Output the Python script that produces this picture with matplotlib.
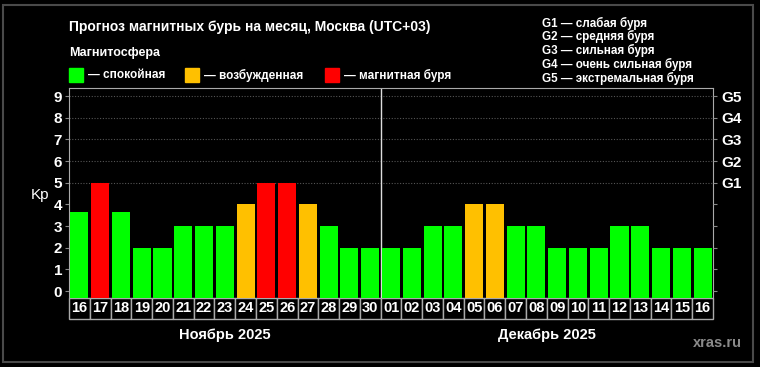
"""
Прогноз магнитных бурь на месяц (xras.ru) - recreation
"""

import matplotlib
matplotlib.use('Agg')
import matplotlib.pyplot as plt
from matplotlib.patches import Rectangle
import matplotlib.transforms as mtransforms

plt.rcParams['font.family'] = ['Liberation Sans', 'DejaVu Sans']
plt.rcParams['font.weight'] = 'bold'

# Data
days = ['16', '17', '18', '19', '20', '21', '22', '23', '24', '25', '26', '27', '28', '29', '30',
        '01', '02', '03', '04', '05', '06', '07', '08', '09', '10', '11', '12', '13', '14', '15', '16']
kp = [3.67, 5, 3.67, 2, 2, 3, 3, 3, 4, 5, 5, 4, 3, 2, 2,
      2, 2, 3, 3, 4, 4, 3, 3, 2, 2, 2, 3, 3, 2, 2, 2]
months = ['Ноябрь 2025', 'Декабрь 2025']
month_len = [15, 16]
g_labels = ['G1', 'G2', 'G3', 'G4', 'G5']
g_desc = ['слабая буря', 'средняя буря', 'сильная буря', 'очень сильная буря', 'экстремальная буря']
state_names = ['спокойная', 'возбужденная', 'магнитная буря']
state_colors = ['#00ff00', '#ffc000', '#ff0000']

W, H = 760, 367


def fx(px):
    return px / W


def fy(py):
    return 1 - py / H


def bar_color(v):
    if v >= 5:
        return state_colors[2]
    if v >= 4:
        return state_colors[1]
    return state_colors[0]


fig = plt.figure(figsize=(7.6, 3.67), dpi=100, facecolor='black')

# outer frame
fig.patches.append(Rectangle((fx(3), fy(362)), fx(750), 357 / H, transform=fig.transFigure,
                             fill=False, edgecolor='#4a4a4a', lw=1.5))

ax = fig.add_axes([fx(69), fy(298), fx(713 - 69), (298 - 88) / H])
ax.set_facecolor('black')
ymin, ymax = -0.32, 9.37
ax.set_xlim(-0.5, len(days) - 0.5)
ax.set_ylim(ymin, ymax)

x = list(range(len(days)))
ax.bar(x, [v - ymin for v in kp], bottom=ymin, width=0.87,
       color=[bar_color(v) for v in kp], zorder=3)

# grid on the G levels only
for g in range(5, 10):
    ax.axhline(g, color='#555555', lw=0.8, ls=(0, (1, 1.5)), zorder=1)

# month separator
ax.axvline(month_len[0] - 0.5, color='#dddddd', lw=1, zorder=2)

for s in ['left', 'top', 'right']:
    ax.spines[s].set_color('#aaaaaa')
ax.spines['bottom'].set_visible(False)

ax.set_yticks(range(10))
ax.tick_params(axis='y', colors='#888888', labelcolor='white', labelsize=11, length=3, pad=2)
ax.set_xticks([])
ax.set_ylabel('Kp', color='white', fontsize=11, rotation=0, va='center')
ax.yaxis.set_label_coords(-0.045, 0.49)

ax2 = ax.twinx()
ax2.set_ylim(ymin, ymax)
ax2.set_yticks(range(10))
ax2.set_yticklabels([''] * 5 + g_labels)
ax2.tick_params(axis='y', colors='#888888', labelcolor='white', labelsize=11, length=3, pad=3)
for s in ax2.spines.values():
    s.set_visible(False)

# date cells under the bars
trans = mtransforms.blended_transform_factory(ax.transData, ax.transAxes)
cell_h = 21 / 210
for i, d in enumerate(days):
    ax.add_patch(Rectangle((i - 0.5, -cell_h), 1, cell_h, transform=trans, clip_on=False,
                           facecolor='black', edgecolor='#aaaaaa', lw=1))
    ax.text(i, -cell_h / 2, d, transform=trans, ha='center', va='center',
            color='white', fontsize=10.5, clip_on=False)

# month names
start = 0
for m, n in zip(months, month_len):
    ax.text(start + (n - 1) / 2, -0.178, m, transform=trans, ha='center', va='center',
            color='white', fontsize=10.5)
    start += n

# header
fig.text(fx(69), fy(27), 'Прогноз магнитных бурь на месяц, Москва (UTC+03)',
         color='white', fontsize=10, va='center')
fig.text(fx(69), fy(53), 'Магнитосфера', color='white', fontsize=9, va='center')

sq_x = [69, 185, 325]
for sx, name, c in zip(sq_x, state_names, state_colors):
    fig.patches.append(Rectangle((fx(sx), fy(82)), fx(14), 14 / H,
                                 transform=fig.transFigure, color=c))
    fig.text(fx(sx + 19), fy(75), '— ' + name, color='white', fontsize=8.5, va='center')

for k, (g, desc) in enumerate(zip(g_labels, g_desc)):
    fig.text(fx(542), fy(23 + k * 13.8), g + ' — ' + desc, color='white',
             fontsize=8.4, va='center')

fig.text(fx(742), fy(343), 'xras.ru', color='#8a8a8a', fontsize=10.5,
         ha='right', va='center')

fig.savefig('out.png', dpi=100, facecolor='black')
